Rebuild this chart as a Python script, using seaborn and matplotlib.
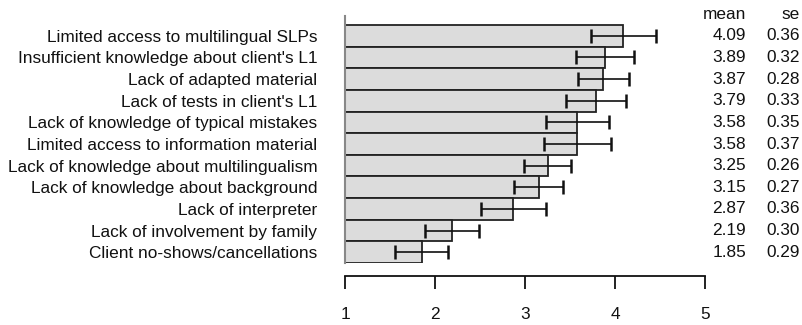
import matplotlib
matplotlib.use("Agg")
import matplotlib.pyplot as plt
import matplotlib.transforms as mtransforms
import seaborn as sns
import pandas as pd

categories = [
    "Limited access to multilingual SLPs",
    "Insufficient knowledge about client's L1",
    "Lack of adapted material",
    "Lack of tests in client's L1",
    "Lack of knowledge of typical mistakes",
    "Limited access to information material",
    "Lack of knowledge about multilingualism",
    "Lack of knowledge about background",
    "Lack of interpreter",
    "Lack of involvement by family",
    "Client no-shows/cancellations",
]
means = [4.09, 3.89, 3.87, 3.79, 3.58, 3.58, 3.25, 3.15, 2.87, 2.19, 1.85]
ses = [0.36, 0.32, 0.28, 0.33, 0.35, 0.37, 0.26, 0.27, 0.36, 0.30, 0.29]
xticks = [1, 2, 3, 4, 5]

df = pd.DataFrame({"item": categories, "mean": means, "se": ses})

sns.set_style("white")
plt.rcParams["font.family"] = ["Liberation Sans", "DejaVu Sans"]

FS = 12.4
W, H = 802, 325
fig = plt.figure(figsize=(W / 100, H / 100), dpi=100)
# axes from x=345..705 px, y=16..263 px (top-down)
ax = fig.add_axes([345 / W, (H - 263) / H, 360 / W, 247 / H])

sns.barplot(data=df, x="mean", y="item", orient="h", width=1.0,
            color="#dcdcdc", edgecolor="#222222", linewidth=1.3,
            errorbar=None, saturation=1, ax=ax)
ax.errorbar(df["mean"], range(len(df)), xerr=df["se"], fmt="none",
            ecolor="#111111", elinewidth=1.2, capsize=5.0, capthick=1.8)

ax.set_xlim(1, 5)
ax.set_ylim(len(df) - 0.5, -0.5 - 9 / 21.6)
ax.set_xlabel("")
ax.set_ylabel("")

for s in ["top", "right"]:
    ax.spines[s].set_visible(False)
ax.spines["left"].set_color("#888888")
ax.spines["left"].set_linewidth(1.5)
ax.spines["bottom"].set_position(("outward", 9))
ax.spines["bottom"].set_color("#111111")
ax.spines["bottom"].set_linewidth(1.3)

ax.set_xticks(xticks)
ax.set_xticklabels([str(t) for t in xticks])
ax.tick_params(axis="x", bottom=True, direction="out", length=9.5, width=1.3,
               color="#111111", pad=13, labelsize=FS, labelcolor="#111111")
ax.tick_params(axis="y", left=False, length=0, pad=20, labelsize=FS,
               labelcolor="#111111")
for lab in ax.get_yticklabels():
    lab.set_horizontalalignment("right")

trans = mtransforms.blended_transform_factory(fig.transFigure, ax.transData)
ax.text(746 / W, -1.0, "mean", transform=trans, ha="right", va="center",
        fontsize=FS, color="#111111", clip_on=False)
ax.text(800 / W, -1.0, "se", transform=trans, ha="right", va="center",
        fontsize=FS, color="#111111", clip_on=False)
for i, (m, s) in enumerate(zip(means, ses)):
    ax.text(746 / W, i, f"{m:.2f}", transform=trans, ha="right", va="center",
            fontsize=FS, color="#111111", clip_on=False)
    ax.text(800 / W, i, f"{s:.2f}", transform=trans, ha="right", va="center",
            fontsize=FS, color="#111111", clip_on=False)

fig.savefig("out.png", dpi=100)
